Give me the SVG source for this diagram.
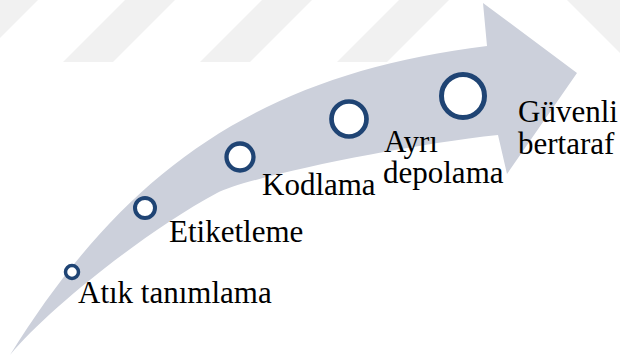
<svg xmlns="http://www.w3.org/2000/svg" width="620" height="358" viewBox="0 0 620 358">
  <style>
    .stripe { fill: #f1f1f1; }
    .band { fill: #ccd0db; }
    .dot { fill: #ffffff; stroke: #1f4474; }
    .lbl { font-family: 'Liberation Serif', 'DejaVu Serif', serif; font-size: 31px; fill: #000000; }
  </style>

  <!-- faint diagonal stripes across the top -->
  <g id="backdrop">
    <polygon class="stripe" points="-12,0 38,0 -24,62 -74,62"/>
    <polygon class="stripe" points="125,0 175,0 113,62 63,62"/>
    <polygon class="stripe" points="262,0 312,0 250,62 200,62"/>
    <polygon class="stripe" points="399,0 449,0 387,62 337,62"/>
    <polygon class="stripe" points="567,0 620,0 620,53"/>
  </g>

  <!-- curved process arrow -->
  <g id="connectors">
    <path class="band" d="M10,355 C125,170 259,74 487,46 L483,3 L577,73 L507,174 L498,135 C403,145 248,177 217,193 C146,231 48,309 10,355 Z"/>
  </g>

  <g id="step-atik">
    <circle class="dot" cx="72" cy="272" r="6.5" stroke-width="3.5"/>
    <text class="lbl" font-family="Liberation Serif, serif" x="78" y="303">Atık tanımlama</text>
  </g>

  <g id="step-etiketleme">
    <circle class="dot" cx="145" cy="208" r="10" stroke-width="4"/>
    <text class="lbl" x="169" y="242">Etiketleme</text>
  </g>

  <g id="step-kodlama">
    <circle class="dot" cx="240" cy="157" r="13.5" stroke-width="4.3"/>
    <text class="lbl" x="262" y="195">Kodlama</text>
  </g>

  <g id="step-ayri">
    <circle class="dot" cx="349" cy="119" r="17.5" stroke-width="4.7"/>
    <text class="lbl" x="384" y="152">Ayrı</text>
    <text class="lbl" x="383" y="183">depolama</text>
  </g>

  <g id="step-guvenli">
    <circle class="dot" cx="463" cy="96" r="21.5" stroke-width="5"/>
    <text class="lbl" x="518" y="122">Güvenli</text>
    <text class="lbl" x="518" y="154">bertaraf</text>
  </g>
</svg>
